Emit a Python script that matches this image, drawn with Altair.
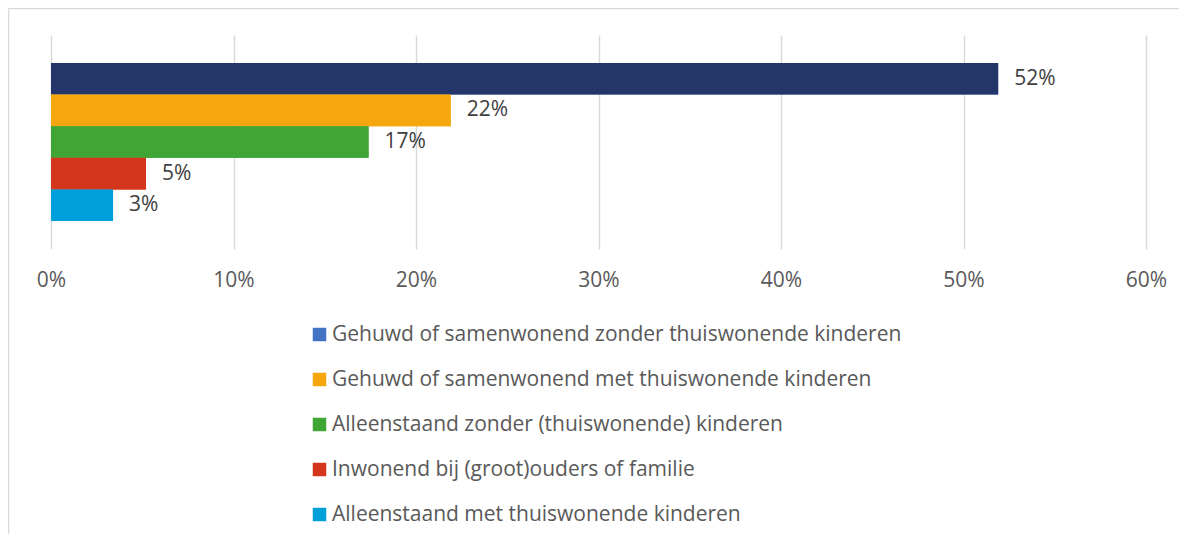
import altair as alt
import pandas as pd

categories = [
    "Gehuwd of samenwonend zonder thuiswonende kinderen",
    "Gehuwd of samenwonend met thuiswonende kinderen",
    "Alleenstaand zonder (thuiswonende) kinderen",
    "Inwonend bij (groot)ouders of familie",
    "Alleenstaand met thuiswonende kinderen",
]
values = [0.519, 0.219, 0.174, 0.052, 0.034]
bar_colors = ["#243569", "#F6A70E", "#3FA535", "#D4361B", "#00A0DA"]
legend_colors = ["#4472C4", "#F6A70E", "#3FA535", "#D4361B", "#00A0DA"]
x_ticks = [0, 0.1, 0.2, 0.3, 0.4, 0.5, 0.6]

df = pd.DataFrame({"cat": categories, "val": values})

FONT = "Open Sans"
FS = 21

yenc = alt.Y("cat:N", sort=categories, axis=None,
             scale=alt.Scale(paddingInner=0, paddingOuter=0.886))
xenc = alt.X("val:Q", scale=alt.Scale(domain=[0, 0.6], nice=False),
             axis=alt.Axis(values=x_ticks, format=".0%", title=None,
                           domain=False, ticks=False, grid=True,
                           gridColor="#D9D9D9", gridWidth=1.5,
                           labelFont=FONT, labelFontSize=FS,
                           labelColor="#595959", labelPadding=20,
                           labelFlush=False))

legend_layer = alt.Chart(df).mark_bar().encode(
    x=xenc, y=yenc,
    fill=alt.Fill("cat:N", sort=categories,
                  scale=alt.Scale(domain=categories, range=legend_colors),
                  legend=alt.Legend(title=None, orient="none",
                                    legendX=258, legendY=289,
                                    direction="vertical",
                                    symbolType="square", symbolSize=182,
                                    symbolStrokeWidth=0,
                                    labelFont=FONT, labelFontSize=FS,
                                    labelColor="#595959", labelLimit=900,
                                    labelOffset=2, rowPadding=23,
                                    padding=0)),
)

bars = alt.Chart(df).mark_bar().encode(
    x=xenc, y=yenc,
    color=alt.Color("cat:N", sort=categories,
                    scale=alt.Scale(domain=categories, range=bar_colors),
                    legend=None),
)

labels = alt.Chart(df).mark_text(
    align="left", baseline="middle", dx=16,
    font=FONT, fontSize=FS, color="#404040",
).encode(x=xenc, y=yenc, text=alt.Text("val:Q", format=".0%"))

border_df = pd.DataFrame({"k": [0]})
border_top = alt.Chart(border_df).mark_rule(color="#D9D9D9", strokeWidth=1.5).encode(
    x=alt.value(-42.5), x2=alt.value(1130), y=alt.value(-26.5))
border_left = alt.Chart(border_df).mark_rule(color="#D9D9D9", strokeWidth=1.5).encode(
    x=alt.value(-42.5), y=alt.value(-26.5), y2=alt.value(500))

chart = alt.layer(legend_layer, bars, labels, border_top, border_left).resolve_scale(
    fill="independent", color="independent"
).properties(
    width=1095, height=214,
    padding={"left": 43, "top": 27, "right": 33, "bottom": 285},
    autosize=alt.AutoSizeParams(type="none"),
).configure_view(stroke=None)

chart.save("out.html", embed_options={"renderer": "svg", "actions": False})
